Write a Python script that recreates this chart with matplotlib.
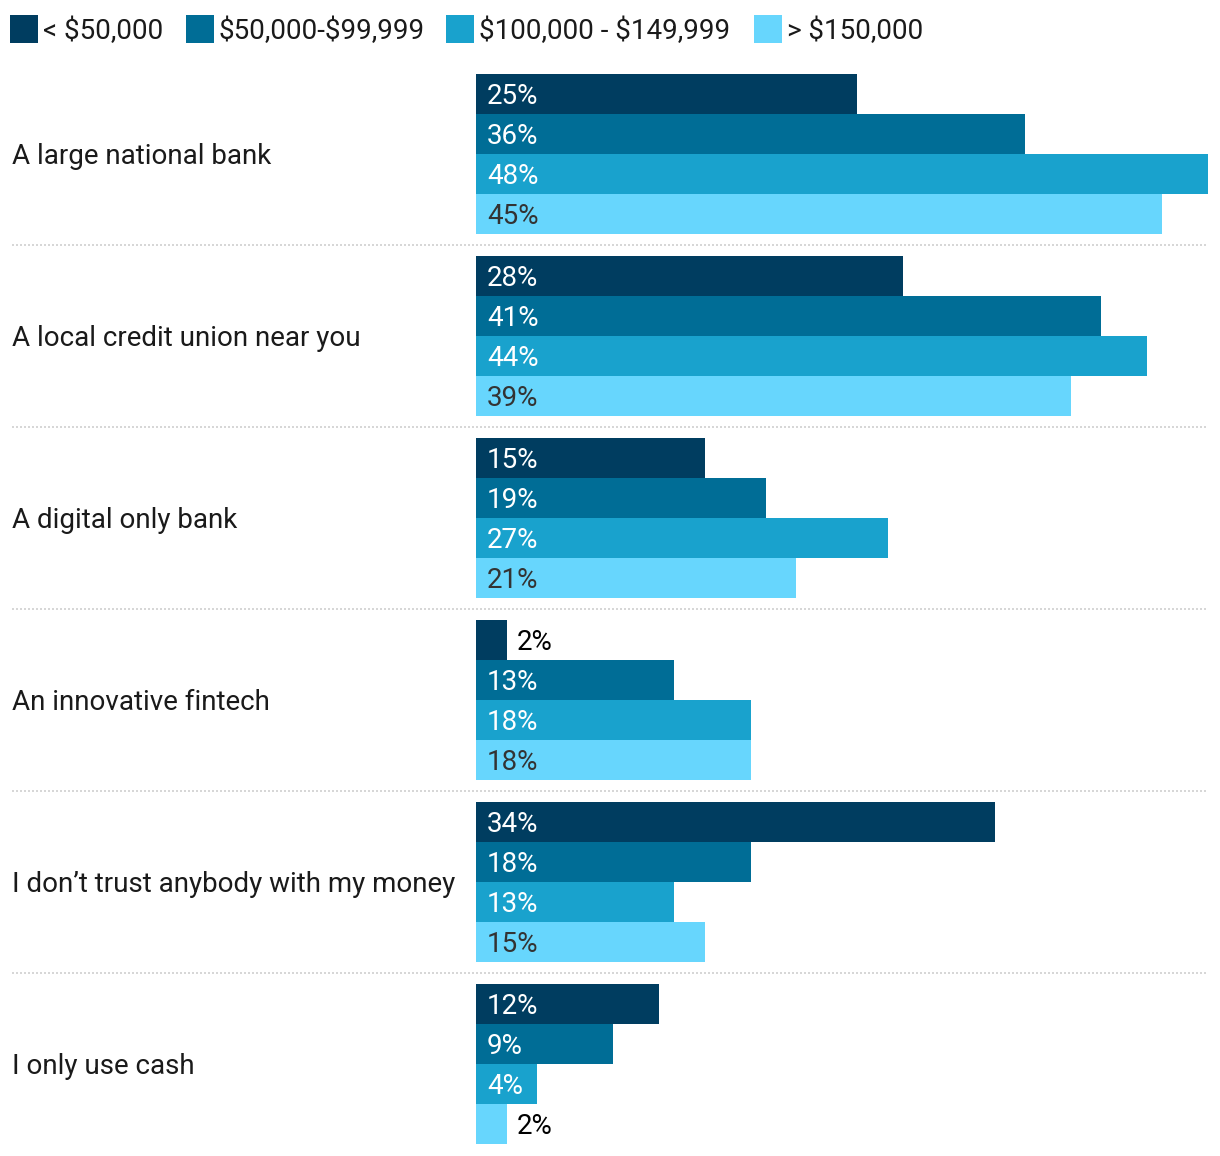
import matplotlib.pyplot as plt
from matplotlib.patches import Rectangle

plt.rcParams['font.family'] = ['Roboto', 'DejaVu Sans']
plt.rcParams['text.parse_math'] = False

categories = [
    "A large national bank",
    "A local credit union near you",
    "A digital only bank",
    "An innovative fintech",
    "I don\u2019t trust anybody with my money",
    "I only use cash",
]
series_names = ["< $50,000", "$50,000-$99,999", "$100,000 - $149,999", "> $150,000"]
under_50k = [25, 28, 15, 2, 34, 12]
from_50k_to_100k = [36, 41, 19, 13, 18, 9]
from_100k_to_150k = [48, 44, 27, 18, 13, 4]
over_150k = [45, 39, 21, 18, 15, 2]

series = [under_50k, from_50k_to_100k, from_100k_to_150k, over_150k]
colors = ['#003d60', '#006d96', '#19a2cd', '#67d6fd']
label_colors = ['white', 'white', 'white', '#333333']

W, H = 1220, 1156
fig = plt.figure(figsize=(W / 100, H / 100), dpi=100)

# axes spans x 12..1208 px, y 74..1144 px
ax = fig.add_axes([12 / W, (H - 1144) / H, 1196 / W, 1070 / H])
px_per_unit = 15.25
x_left = -(476 - 12) / px_per_unit
ax.set_xlim(x_left, 48)
group_step = 4.55
n = len(categories)
ax.set_ylim(group_step * (n - 1) + 4, 0)
ax.axis('off')

fs = 20
dy = 0.05  # nudge text down slightly
for g, cat in enumerate(categories):
    top = g * group_step
    for i, (vals, col) in enumerate(zip(series, colors)):
        v = vals[g]
        ax.barh(top + i + 0.5, v, height=1.0, left=0, color=col, linewidth=0)
        if v < 3:
            ax.annotate(f"{v}%", xy=(v, top + i + 0.5 + dy), xytext=(7.2, 0),
                        textcoords='offset points', va='center', ha='left',
                        fontsize=fs, color='black')
        else:
            ax.annotate(f"{v}%", xy=(0, top + i + 0.5 + dy), xytext=(7.9, 0),
                        textcoords='offset points', va='center', ha='left',
                        fontsize=fs, color=label_colors[i])
    ax.text(x_left + 0.03, top + 2 + dy, cat, va='center', ha='left',
            fontsize=fs, color='#1a1a1a')
    if g < n - 1:
        ax.axhline(top + 4.275, color='#cfcfcf', linewidth=1.2,
                   linestyle=(0, (1.2, 1.2)))

# legend
legend_x = [10, 186, 446, 754]
for x, name, col in zip(legend_x, series_names, colors):
    fig.patches.append(Rectangle((x / W, (H - 43) / H), 28 / W, 28 / H,
                                 transform=fig.transFigure, facecolor=col,
                                 edgecolor='none'))
    fig.text((x + 33) / W, (H - 31) / H, name, va='center', ha='left',
             fontsize=fs, color='#1a1a1a')

fig.savefig('out.png', dpi=100)
